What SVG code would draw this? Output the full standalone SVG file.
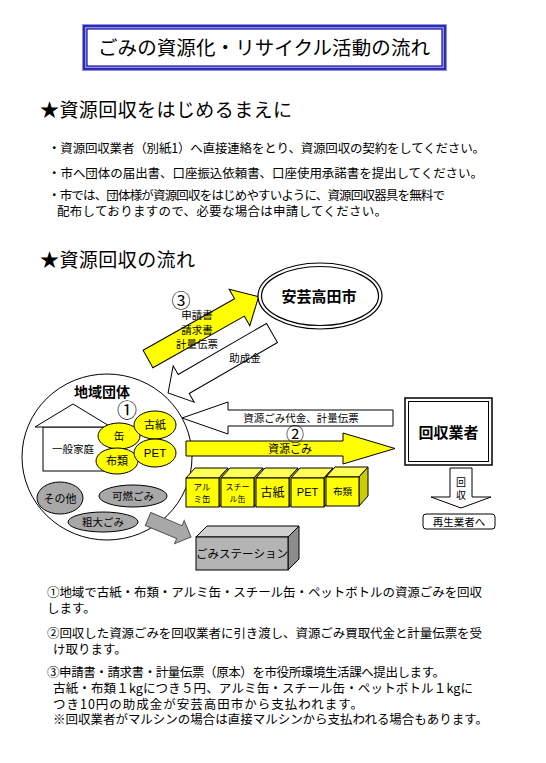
<svg xmlns="http://www.w3.org/2000/svg" width="546" height="763" viewBox="0 0 546 763">
<style>
text { font-family: "Noto Sans CJK JP", "Noto Sans CJK SC", sans-serif; fill:#000; }
.body { font-size:12.5px; }
.h { font-size:19px; }
.c { text-anchor: middle; }
.lat { font-family: "Liberation Sans", "Noto Sans CJK JP", sans-serif; }
.ln { fill:none; stroke:#000; stroke-width:1; }
.yel { fill:#ffff00; stroke:#000; stroke-width:1; }
.gry { fill:#a8a8a8; stroke:#000; stroke-width:1; }
.wht { fill:#fff; stroke:#000; stroke-width:1; }
.cfront { fill:#ffff00; stroke:#000; stroke-width:1; }
.ctop { fill:#ffff55; stroke:#000; stroke-width:1; }
.cside { fill:#cccc00; stroke:#000; stroke-width:1; }
</style>
<rect width="546" height="763" fill="#fff"/>

<g id="title">
<rect x="82" y="24" width="365" height="47" fill="#8f8ff0"/>
<rect x="84" y="26" width="361" height="43" fill="none" stroke="#14149a" stroke-width="1.6"/>
<rect x="87" y="29" width="355" height="37" fill="#fff" stroke="#14149a" stroke-width="1.2"/>
<text x="264" y="54.5" class="c" font-size="19.5" textLength="332" lengthAdjust="spacing">ごみの資源化・リサイクル活動の流れ</text>
</g>

<g id="intro">
<text x="40" y="117" class="h" textLength="252" lengthAdjust="spacing">★資源回収をはじめるまえに</text>
<text x="48" y="153" class="body" textLength="437" lengthAdjust="spacing">・資源回収業者（別紙1）へ直接連絡をとり、資源回収の契約をしてください。</text>
<text x="48" y="178" class="body" textLength="435" lengthAdjust="spacing">・市へ団体の届出書、口座振込依頼書、口座使用承諾書を提出してください。</text>
<text x="48" y="200" class="body" textLength="397" lengthAdjust="spacing">・市では、団体様が資源回収をはじめやすいように、資源回収器具を無料で</text>
<text x="57" y="216" class="body" textLength="330" lengthAdjust="spacing">配布しておりますので、必要な場合は申請してください。</text>
<text x="40" y="267" class="h" textLength="155" lengthAdjust="spacing">★資源回収の流れ</text>
</g>

<g id="community">
<ellipse cx="107" cy="457" rx="85" ry="83" class="wht"/>
<text x="102" y="397" class="c" font-size="14" font-weight="bold">地域団体</text>
<text x="127" y="418" class="c" font-size="20">①</text>
<g id="house">
<rect x="43" y="427" width="70" height="44" class="wht"/>
<polygon points="35,427 73,404 111,427" class="wht"/>
<text x="73" y="453" class="c" font-size="10.5">一般家庭</text>
</g>
<g id="can"><ellipse cx="119" cy="436" rx="21" ry="13" class="yel"/><text x="119" y="440" class="c" font-size="10.5">缶</text></g>
<g id="paper"><ellipse cx="155" cy="425" rx="21" ry="14" class="yel"/><text x="155" y="429" class="c" font-size="11">古紙</text></g>
<g id="cloth"><ellipse cx="117" cy="461" rx="21" ry="13" class="yel"/><text x="117" y="465" class="c" font-size="11">布類</text></g>
<g id="pet"><ellipse cx="155" cy="453" rx="21" ry="14" class="yel"/><text x="155" y="457" class="c lat" font-size="11.5">PET</text></g>
<g id="other"><ellipse cx="60" cy="498" rx="23" ry="16" class="gry"/><text x="60" y="502.5" class="c" font-size="11">その他</text></g>
<g id="burnable"><ellipse cx="133" cy="496" rx="34" ry="11" class="gry"/><text x="133" y="500" class="c" font-size="10.5">可燃ごみ</text></g>
<g id="bulky"><ellipse cx="103" cy="522" rx="35" ry="10" class="gry"/><text x="103" y="526" class="c" font-size="10.5">粗大ごみ</text></g>
</g>

<g id="connectors">
<g transform="translate(148,359) rotate(-29.4)"><polygon points="0,-10 105,-10 105,-21 127,0 105,21 105,10 0,10" class="yel"/></g>
<g transform="translate(272,333) rotate(150)"><polygon points="0,-11 102,-11 102,-21 120,0 102,21 102,11 0,11" class="wht"/></g>
<polygon points="393,410 228,410 228,402 182,418 228,434 228,426 393,426" class="wht"/>
<polygon points="186,441 343,441 343,433 395,448.5 343,464 343,456 186,456" class="yel"/>
<g transform="translate(148,519) rotate(22.7)"><polygon points="0,-7 34,-7 34,-12.5 46.6,0 34,12.5 34,7 0,7" fill="#a8a8a8" stroke="#555" stroke-width="1"/></g>
<polygon points="450,468 472,468 472,497 491,497 461,508 431,497 450,497" class="wht"/>
<text x="181" y="308" class="c" font-size="19">③</text>
<text x="197" y="319" class="c" font-size="10.5">申請書</text>
<text x="197" y="334" class="c" font-size="10.5">請求書</text>
<text x="197" y="348" class="c" font-size="10.5">計量伝票</text>
<text x="245" y="362" class="c" font-size="10.5">助成金</text>
<text x="301" y="422" class="c" font-size="10.5">資源ごみ代金、計量伝票</text>
<text x="295" y="441" class="c" font-size="18">②</text>
<text x="290" y="453" class="c" font-size="11">資源ごみ</text>
<text x="461" y="485.5" class="c" font-size="10">回</text>
<text x="461" y="499" class="c" font-size="10">収</text>
</g>

<g id="city">
<ellipse cx="320" cy="296" rx="62" ry="33" fill="#fff" stroke="#000" stroke-width="1.2"/>
<ellipse cx="320" cy="296" rx="58.5" ry="29.5" fill="none" stroke="#000" stroke-width="1.2"/>
<text x="319" y="302" class="c" font-size="15" font-weight="bold">安芸高田市</text>
</g>

<g id="collector">
<rect x="405" y="398" width="87" height="67" fill="#fff" stroke="#000" stroke-width="1.5"/>
<rect x="408.5" y="401.5" width="80" height="60" fill="none" stroke="#000" stroke-width="1"/>
<text x="448.5" y="437.5" class="c" font-size="15" font-weight="bold">回収業者</text>
</g>

<g id="recycler">
<rect x="423" y="514" width="72" height="15" rx="3" class="wht"/>
<text x="459" y="525.5" class="c" font-size="10.5">再生業者へ</text>
</g>

<g id="cubes">
<g id="cube-alu">
<polygon points="186,478 195,468 228,468 219,478" class="ctop"/>
<polygon points="219,478 228,468 228,497 219,507" class="cside"/>
<rect x="186" y="478" width="33" height="29" class="cfront"/>
<text x="202" y="490" class="c" font-size="8.5">アル</text>
<text x="202" y="502" class="c" font-size="8.5">ミ缶</text>
</g>
<g id="cube-steel">
<polygon points="221,478 230,468 263,468 254,478" class="ctop"/>
<polygon points="254,478 263,468 263,497 254,507" class="cside"/>
<rect x="221" y="478" width="33" height="29" class="cfront"/>
<text x="237.5" y="490" class="c" font-size="8">スチー</text>
<text x="237.5" y="502" class="c" font-size="8">ル缶</text>
</g>
<g id="cube-paper">
<polygon points="256,478 265,468 298,468 289,478" class="ctop"/>
<polygon points="289,478 298,468 298,497 289,507" class="cside"/>
<rect x="256" y="478" width="33" height="29" class="cfront"/>
<text x="272.5" y="497" class="c" font-size="12">古紙</text>
</g>
<g id="cube-pet">
<polygon points="291,478 300,468 333,468 324,478" class="ctop"/>
<polygon points="324,478 333,468 333,497 324,507" class="cside"/>
<rect x="291" y="478" width="33" height="29" class="cfront"/>
<text x="307.5" y="496" class="c lat" font-size="11">PET</text>
</g>
<g id="cube-cloth">
<polygon points="326,477 335,467 368,467 359,477" class="ctop"/>
<polygon points="359,477 368,467 368,496 359,506" class="cside"/>
<rect x="326" y="477" width="33" height="29" class="cfront"/>
<text x="342.5" y="495" class="c" font-size="9.5">布類</text>
</g>
</g>

<g id="station">
<polygon points="196,537 207,526 299,526 288,537" fill="#d0d0d0" stroke="#000" stroke-width="1"/>
<polygon points="288,537 299,526 299,559 288,570" fill="#8c8c8c" stroke="#000" stroke-width="1"/>
<rect x="196" y="537" width="92" height="33" fill="#b4b4b4" stroke="#000" stroke-width="1"/>
<text x="242" y="558" class="c" font-size="11.5">ごみステーション</text>
</g>

<g id="notes">
<text x="47" y="596.5" class="body" textLength="435" lengthAdjust="spacing">①地域で古紙・布類・アルミ缶・スチール缶・ペットボトルの資源ごみを回収</text>
<text x="47" y="612.5" class="body">します。</text>
<text x="47" y="637.5" class="body" textLength="435" lengthAdjust="spacing">②回収した資源ごみを回収業者に引き渡し、資源ごみ買取代金と計量伝票を受</text>
<text x="53" y="653.5" class="body">け取ります。</text>
<text x="47" y="676.5" class="body" textLength="398" lengthAdjust="spacing">③申請書・請求書・計量伝票（原本）を市役所環境生活課へ提出します。</text>
<text x="53" y="692.5" class="body" textLength="420" lengthAdjust="spacing">古紙・布類１kgにつき５円、アルミ缶・スチール缶・ペットボトル１kgに</text>
<text x="53" y="708.5" class="body" textLength="310" lengthAdjust="spacing">つき10円の助成金が安芸高田市から支払われます。</text>
<text x="53" y="723.5" class="body" textLength="435" lengthAdjust="spacing">※回収業者がマルシンの場合は直接マルシンから支払われる場合もあります。</text>
</g>
</svg>
